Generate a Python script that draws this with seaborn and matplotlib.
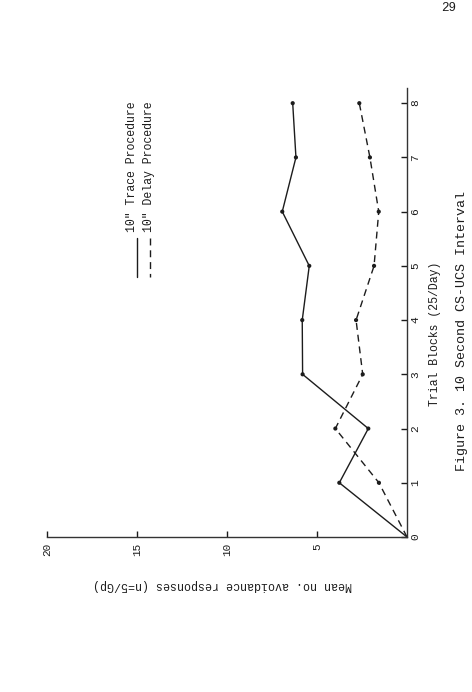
import matplotlib
matplotlib.use("Agg")
import numpy as np
import pandas as pd
import seaborn as sns
import matplotlib.pyplot as plt
from matplotlib.lines import Line2D

# ---- data ----
blocks = [0, 1, 2, 3, 4, 5, 6, 7, 8]
trace_values = [0, 3.76, 2.15, 5.80, 5.82, 5.43, 6.93, 6.17, 6.35]
delay_values = [0, 1.56, 3.98, 2.46, 2.83, 1.83, 1.57, 2.06, 2.65]
series_names = ['10" Trace Procedure', '10" Delay Procedure']
value_ticks = [5, 10, 15, 20]
block_ticks = [0, 1, 2, 3, 4, 5, 6, 7, 8]

x_label = "Trial Blocks (25/Day)"
y_label = "Mean no. avoidance responses (n=5/Gp)"
caption = "Figure 3. 10 Second CS-UCS Interval"
page_no = "29"

W, H = 472, 692
INK = "#1c1c1c"

sns.set_theme(style="white")
plt.rcParams['font.family'] = ['Liberation Mono', 'DejaVu Sans Mono']

fig = plt.figure(figsize=(W / 100, H / 100), dpi=100)
fig.patch.set_facecolor("white")


def fx(px):
    return px / W


def fy(py):
    return 1 - py / H


# page is rotated 90 deg: values run right-to-left, blocks bottom-to-top
ax = fig.add_axes([fx(47), fy(537), fx(407) - fx(47), fy(88) - fy(537)])

df = pd.DataFrame({
    "block": blocks + blocks,
    "value": trace_values + delay_values,
    "series": [series_names[0]] * len(blocks) + [series_names[1]] * len(blocks),
})

sns.lineplot(data=df, x="value", y="block", style="series",
             dashes={series_names[0]: "", series_names[1]: (5, 3.5)},
             sort=False, estimator=None, color=INK, linewidth=1.0,
             legend=False, ax=ax)
sns.scatterplot(data=df[df["block"] > 0], x="value", y="block",
                color=INK, s=9, edgecolor="none", legend=False, ax=ax)

ax.set_xlim(20, 0)
ax.set_ylim(0, 8.28)
ax.set_xlabel("")
ax.set_ylabel("")
ax.set_facecolor("white")
ax.grid(False)
for side in ["left", "top"]:
    ax.spines[side].set_visible(False)
for side in ["bottom", "right"]:
    ax.spines[side].set_visible(True)
    ax.spines[side].set_color("#333333")
    ax.spines[side].set_linewidth(1.0)

ax.yaxis.tick_right()
ax.set_xticks(value_ticks)
ax.set_xticklabels([str(v) for v in value_ticks])
ax.set_yticks(block_ticks)
ax.set_yticklabels([str(b) for b in block_ticks])
ax.tick_params(axis="x", direction="in", length=4, width=1, pad=4.5,
               labelsize=8, labelrotation=90, colors=INK, bottom=True)
ax.tick_params(axis="y", direction="in", length=4, width=1, pad=2.5,
               labelsize=8, labelrotation=90, colors=INK,
               right=True, left=False)
for t in ax.get_yticklabels():
    t.set_va("center")

# axis labels / caption as real text, rotated like the scanned page
fig.text(fx(435), fy(334), x_label, rotation=90, ha="center", va="center",
         fontsize=8.3, color=INK)
fig.text(fx(462), fy(331), caption, rotation=90, ha="center", va="center",
         fontsize=9.6, color=INK)
fig.text(fx(222), fy(585), y_label, rotation=180, ha="center", va="center",
         fontsize=8.4, color=INK)
fig.text(fx(449), fy(8), page_no, ha="center", va="center",
         fontsize=9, color=INK)

# legend (typed by hand on the original)
fig.add_artist(Line2D([fx(137), fx(137)], [fy(238), fy(277)],
                      color=INK, linewidth=1.0))
fig.add_artist(Line2D([fx(150), fx(150)], [fy(238), fy(277)],
                      color=INK, linewidth=1.0, dashes=(5, 3.5)))
fig.text(fx(132), fy(232), series_names[0], rotation=90, ha="center",
         va="bottom", fontsize=8.3, color=INK)
fig.text(fx(149), fy(232), series_names[1], rotation=90, ha="center",
         va="bottom", fontsize=8.3, color=INK)

fig.savefig("out.png", dpi=100, facecolor="white")
